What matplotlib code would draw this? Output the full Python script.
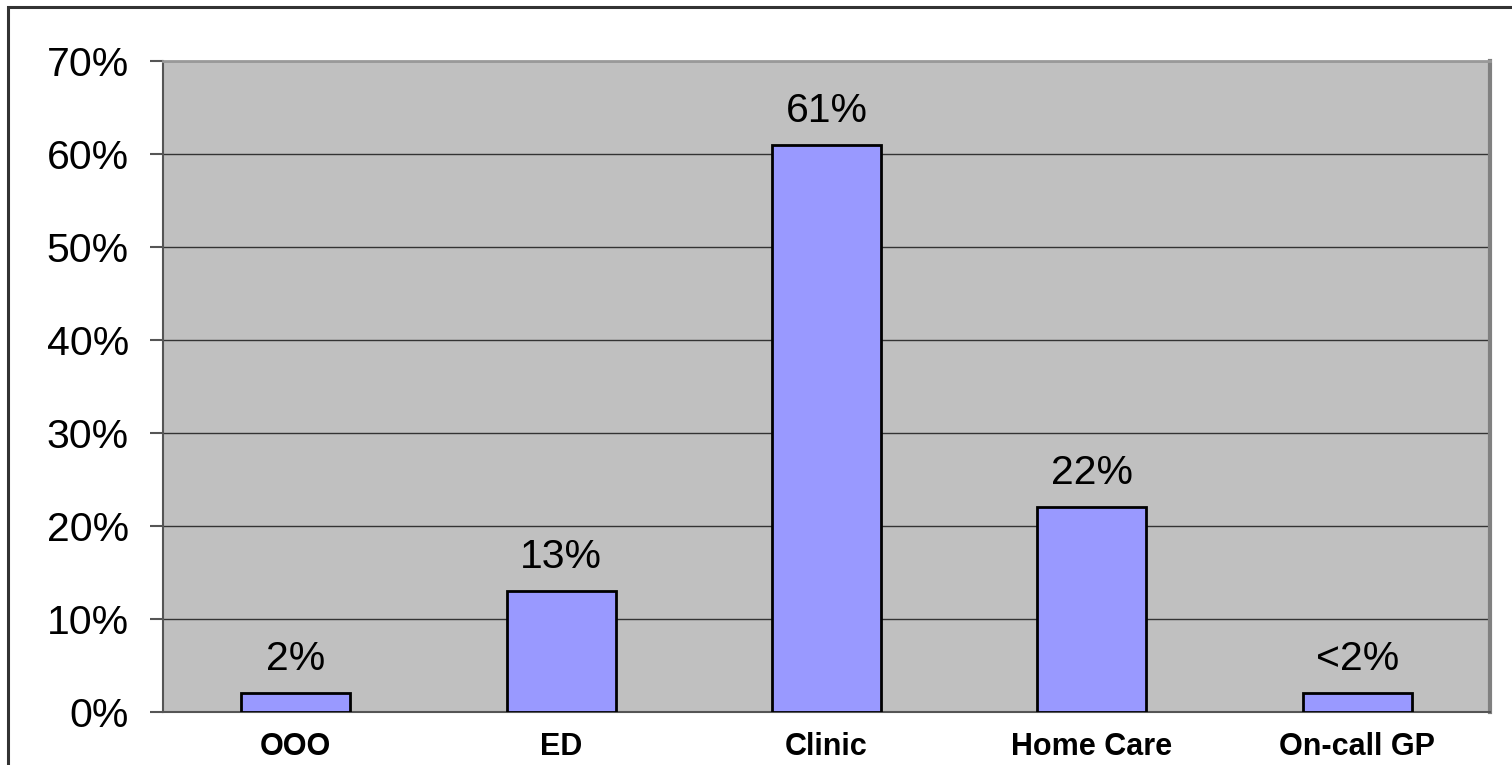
import matplotlib
matplotlib.use("Agg")
import matplotlib.pyplot as plt
from matplotlib.patches import Rectangle

categories = ["OOO", "ED", "Clinic", "Home Care", "On-call GP"]
values = [2, 13, 61, 22, 2]
labels = ["2%", "13%", "61%", "22%", "<2%"]
yticks = [0, 10, 20, 30, 40, 50, 60, 70]
ytick_labels = [f"{v}%" for v in yticks]

plt.rcParams['font.family'] = ['Liberation Sans', 'DejaVu Sans']

W, H = 1512, 765
fig = plt.figure(figsize=(W / 100, H / 100), dpi=100)
fig.patch.set_facecolor("white")

# outer border (top/left visible)
fig.patches.append(Rectangle((8 / W, -0.05), 1.2, 1 - 7 / H + 0.05,
                             transform=fig.transFigure, fill=False,
                             edgecolor="#333333", linewidth=2.2, zorder=0))

ax = fig.add_axes([163 / W, 1 - 712 / H, (1490 - 163) / W, (712 - 61) / H])
ax.set_facecolor("#C0C0C0")

x = list(range(len(categories)))
ax.bar(x, values, width=0.41, color="#9999FF", edgecolor="black",
       linewidth=2, zorder=3)

for xi, v, lab in zip(x, values, labels):
    ax.annotate(lab, (xi, v), xytext=(0, 16.5), textcoords="offset points",
                ha="center", va="baseline", fontsize=29.5, color="black")

ax.set_xlim(-0.5, len(categories) - 0.5)
ax.set_ylim(0, 70)
ax.set_yticks(yticks)
ax.set_yticklabels(ytick_labels, fontsize=29.5)
ax.yaxis.grid(True, color="#333333", linewidth=1, zorder=1)
ax.set_axisbelow(True)

ax.set_xticks(x)
ax.set_xticklabels(categories, fontsize=22, fontweight="bold")
ax.tick_params(axis="x", length=0, pad=14.5)
ax.tick_params(axis="y", length=9.5, width=1.5, color="#555555", pad=15)

for side in ["left", "bottom"]:
    ax.spines[side].set_color("#555555")
    ax.spines[side].set_linewidth(1.5)
ax.spines["top"].set_color("#999999")
ax.spines["top"].set_linewidth(2)
ax.spines["right"].set_color("#808080")
ax.spines["right"].set_linewidth(3)

fig.savefig("out.png", dpi=100)
